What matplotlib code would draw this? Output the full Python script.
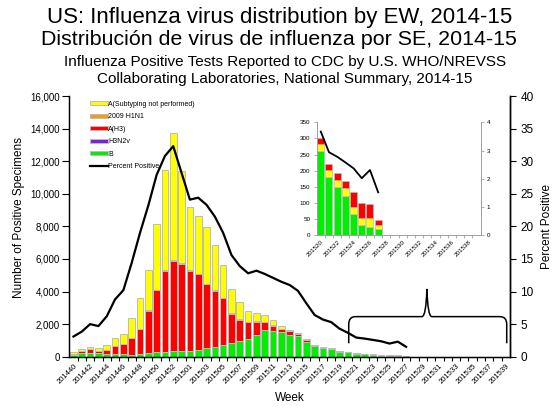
import numpy as np
import matplotlib
matplotlib.use('Agg')
import matplotlib.pyplot as plt
from matplotlib.path import Path
from matplotlib.patches import PathPatch
from matplotlib.ticker import FuncFormatter

plt.rcParams['font.family'] = ['Liberation Sans', 'DejaVu Sans']

# MMWR weeks, 2014-15 season
weeks = ['201440', '201441', '201442', '201443', '201444', '201445', '201446',
         '201447', '201448', '201449', '201450', '201451', '201452', '201453',
         '201501', '201502', '201503', '201504', '201505', '201506', '201507',
         '201508', '201509', '201510', '201511', '201512', '201513', '201514',
         '201515', '201516', '201517', '201518', '201519', '201520', '201521',
         '201522', '201523', '201524', '201525', '201526', '201527', '201528',
         '201529', '201530', '201531', '201532', '201533', '201534', '201535',
         '201536', '201537', '201538', '201539']

# positive specimens by type / subtype
flu_b = [80, 205, 205, 205, 145, 145, 145, 120, 165, 205, 290, 310, 370, 370,
         370, 430, 530, 580, 700, 850, 970, 1100, 1320, 1640, 1560, 1490, 1310,
         1265, 930, 660, 510, 470, 310, 262, 180, 150, 122, 65, 32, 25, 20,
         0, 0, 0, 0, 0, 0, 0, 0, 0, 0, 0, 0]
h3n2v = [0] * 53
a_h3 = [85, 145, 245, 165, 285, 510, 635, 1010, 1555, 2625, 3810, 4980, 5510,
        5330, 4900, 4630, 3920, 3480, 2880, 1770, 1280, 1010, 830, 470, 340,
        210, 240, 115, 90, 30, 30, 20, 20, 19, 20, 20, 20, 48, 45, 45, 15,
        0, 0, 0, 0, 0, 0, 0, 0, 0, 0, 0, 0]
h1n1 = [0, 0, 0, 0, 0, 5, 5, 10, 10, 15, 20, 20, 25, 25, 30, 30, 30, 35, 40,
        45, 45, 35, 30, 25, 20, 15, 15, 10, 10, 5, 0, 0, 0, 0, 0, 0, 0, 0, 0,
        0, 0, 0, 0, 0, 0, 0, 0, 0, 0, 0, 0, 0, 0]
a_unsub = [101, 100, 125, 160, 270, 470, 585, 1260, 1860, 2455, 4010, 6120,
           7825, 5645, 3900, 3530, 3460, 2735, 1990, 1505, 1035, 675, 500, 395,
           310, 175, 105, 80, 60, 25, 30, 20, 20, 21, 22, 22, 25, 22, 23, 28, 13,
           0, 0, 0, 0, 0, 0, 0, 0, 0, 0, 0, 0]
pct_pos = [3.1, 3.85, 5.0, 4.7, 6.2, 8.8, 10.2, 14.4, 19.0, 23.2, 27.9, 30.8,
           32.3, 28.2, 24.1, 24.4, 23.3, 21.5, 19.0, 15.6, 13.9, 12.8, 13.2,
           12.7, 12.1, 11.5, 11.0, 10.1, 8.2, 6.4, 5.7, 5.3, 4.3, 3.67, 2.94,
           2.78, 2.58, 2.37, 2.02, 2.31, 1.52]

c_unsub = '#FFFF00'
c_h1n1 = '#F39C12'
c_h3 = '#FF0000'
c_h3n2v = '#7F1FE0'
c_b = '#00EE00'
edge = '#BBBBBB'

fig = plt.figure(figsize=(5.55, 4.08), dpi=100)

fig.text(0.503, 0.956, 'US: Influenza virus distribution by EW, 2014-15',
         ha='center', va='center', fontsize=16)
fig.text(0.503, 0.902, 'Distribución de virus de influenza por SE, 2014-15',
         ha='center', va='center', fontsize=15.4)
fig.text(0.513, 0.849, 'Influenza Positive Tests Reported to CDC by U.S. WHO/NREVSS',
         ha='center', va='center', fontsize=11)
fig.text(0.513, 0.807, 'Collaborating Laboratories, National Summary, 2014-15',
         ha='center', va='center', fontsize=11)

ax = fig.add_axes([0.1249, 0.1257, 0.7941, 0.639])
x = np.arange(len(weeks))
b = np.array(flu_b, float)
v = np.array(h3n2v, float)
h3 = np.array(a_h3, float)
h1 = np.array(h1n1, float)
un = np.array(a_unsub, float)

kw = dict(width=0.8, edgecolor=edge, linewidth=0.7)
bar_b = ax.bar(x, b, color=c_b, **kw)
bar_v = ax.bar(x, v, bottom=b, color=c_h3n2v, **kw)
bar_h3 = ax.bar(x, h3, bottom=b + v, color=c_h3, **kw)
bar_h1 = ax.bar(x, h1, bottom=b + v + h3, color=c_h1n1, **kw)
bar_un = ax.bar(x, un, bottom=b + v + h3 + h1, color=c_unsub, **kw)

ax.set_xlim(-0.5, len(weeks) - 0.5)
ax.set_ylim(0, 16000)
ax.set_yticks(np.arange(0, 16001, 2000))
ax.yaxis.set_major_formatter(FuncFormatter(lambda val, p: f'{int(val):,}'))
ax.set_xticks(x[::2])
ax.set_xticklabels(weeks[::2], rotation=45, ha='right', rotation_mode='anchor',
                   fontsize=5.5)
ax.set_xticks(np.arange(0.5, len(weeks) - 1, 1), minor=True)
ax.tick_params(axis='x', which='major', length=0, pad=4)
ax.tick_params(axis='x', which='minor', length=3, width=0.8)
ax.tick_params(axis='y', labelsize=7, length=5, width=0.8, pad=2)
ax.spines['top'].set_visible(False)
for s in ['left', 'bottom', 'right']:
    ax.spines[s].set_linewidth(1.0)
ax.set_ylabel('Number of Positive Specimens', fontsize=8.5)
ax.yaxis.set_label_coords(-0.1, 0.534)
ax.set_xlabel('Week', fontsize=8.5)
ax.xaxis.set_label_coords(0.5, -0.135)

ax2 = ax.twinx()
ax2.set_ylim(0, 40)
ax2.set_yticks(np.arange(0, 41, 5))
ax2.tick_params(axis='y', labelsize=8.5, length=4, width=0.8)
ax2.spines['top'].set_visible(False)
ax2.spines['right'].set_linewidth(1.0)
line, = ax2.plot(x[:len(pct_pos)], pct_pos, color='black', lw=1.6)
ax2.set_ylabel('Percent Positive', fontsize=8.5)
ax2.yaxis.set_label_coords(1.07, 0.5)

leg = ax.legend([bar_un, bar_h1, bar_h3, bar_v, bar_b, line],
                ['A(Subtyping not performed)', '2009 H1N1', 'A(H3)', 'H3N2v', 'B',
                 'Percent Positive'],
                loc='upper left', bbox_to_anchor=(0.035, 1.0), frameon=False,
                fontsize=5, handlelength=2.6, handleheight=0.5,
                labelspacing=0.78, handletextpad=0.1, borderaxespad=0.3)

# brace linking the tail of the season to the inset
bx0, bx1, bpk = 33.1, 52.1, 42.5
by0, bym, bytop = 2.06, 6.15, 10.4
verts = [(bx0, by0), (bx0, bym - 1.2), (bx0, bym), (bx0 + 0.8, bym),
         (bpk - 0.6, bym), (bpk - 0.1, bym), (bpk, bytop),
         (bpk + 0.1, bym), (bpk + 0.6, bym),
         (bx1 - 0.8, bym), (bx1, bym), (bx1, bym - 1.2), (bx1, by0)]
codes = [Path.MOVETO, Path.LINETO, Path.CURVE3, Path.CURVE3,
         Path.LINETO, Path.CURVE3, Path.CURVE3,
         Path.CURVE3, Path.CURVE3,
         Path.LINETO, Path.CURVE3, Path.CURVE3, Path.LINETO]
ax2.add_patch(PathPatch(Path(verts, codes), fill=False, lw=1.1,
                        edgecolor='black', clip_on=False))

# inset: end of season detail
start = 33
gray = '#A0A0A0'
axin = fig.add_axes([0.5706, 0.4233, 0.2955, 0.277])
xi = np.arange(len(weeks) - start)
ib = b[start:]
iu = un[start:]
ih = h3[start:] + h1[start:]
ikw = dict(width=0.85, edgecolor=edge, linewidth=0.5)
axin.bar(xi, ib, color=c_b, **ikw)
axin.bar(xi, iu, bottom=ib, color=c_unsub, **ikw)
axin.bar(xi, ih, bottom=ib + iu, color=c_h3, **ikw)
axin.set_xlim(-0.5, len(xi) - 0.5)
axin.set_ylim(0, 350)
axin.set_yticks(np.arange(0, 351, 50))
axin.set_xticks(xi[::2])
axin.set_xticklabels(weeks[start::2], rotation=45, ha='right',
                     rotation_mode='anchor', fontsize=4.5)
axin.set_xticks(np.arange(0.5, len(xi) - 1, 1), minor=True)
axin.tick_params(axis='x', which='major', length=0, pad=3)
axin.tick_params(axis='x', which='minor', length=2.5, width=0.6, color=gray)
axin.tick_params(axis='y', labelsize=4.5, length=2.5, width=0.6, color=gray, pad=2)
axin.spines['top'].set_visible(False)
for s in ['left', 'bottom', 'right']:
    axin.spines[s].set_color(gray)
    axin.spines[s].set_linewidth(0.7)

axin2 = axin.twinx()
axin2.set_ylim(0, 4)
axin2.set_yticks(np.arange(0, 5, 1))
axin2.tick_params(axis='y', labelsize=4.5, length=2.5, width=0.6, color=gray, pad=2)
axin2.spines['top'].set_visible(False)
for s in ['left', 'bottom', 'right']:
    axin2.spines[s].set_color(gray)
    axin2.spines[s].set_linewidth(0.7)
axin2.plot(xi[:len(pct_pos) - start], pct_pos[start:], color='black', lw=1.3)

fig.savefig('out.png', dpi=100)
